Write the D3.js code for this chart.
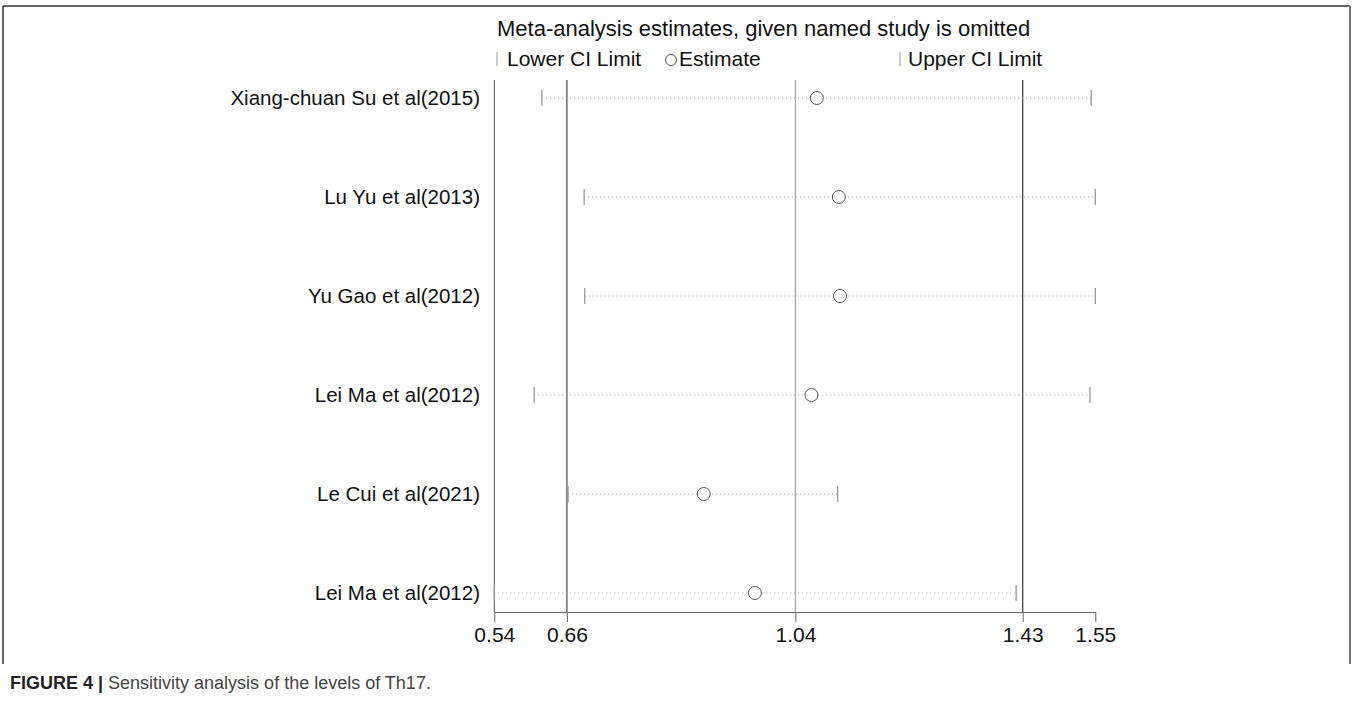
<!DOCTYPE html>
<html><head><meta charset="utf-8">
<script src="https://cdn.jsdelivr.net/npm/d3@7/dist/d3.min.js"></script>
<style>body{margin:0;background:#fff}svg{display:block}</style>
</head><body>
<svg id="c" width="1357" height="706"></svg>
<script>
const studies = ["Xiang-chuan Su et al(2015)","Lu Yu et al(2013)","Yu Gao et al(2012)","Lei Ma et al(2012)","Le Cui et al(2021)","Lei Ma et al(2012)"];
const lowerCI = [0.620,0.691,0.692,0.607,0.664,0.540];
const estimate = [1.082,1.119,1.121,1.073,0.892,0.978];
const upperCI = [1.543,1.550,1.550,1.541,1.117,1.417];
const overall = {lower:0.662, est:1.046, upper:1.428};
const tickValues = [0.54,0.662,1.046,1.428,1.55];
const tickLabels = ["0.54","0.66","1.04","1.43","1.55"];

const svg = d3.select("#c");
const font = "Liberation Sans, Arial, sans-serif";
// frame
svg.append("line").attr("x1",3).attr("y1",6).attr("x2",1350).attr("y2",6).attr("stroke","#333").attr("stroke-width",1.5);
svg.append("line").attr("x1",3).attr("y1",6).attr("x2",3).attr("y2",664).attr("stroke","#333").attr("stroke-width",1.5);
svg.append("line").attr("x1",1350).attr("y1",6).attr("x2",1350).attr("y2",664).attr("stroke","#777").attr("stroke-width",2);

const x = d3.scaleLinear().domain([0.54,1.55]).range([494.3,1095.3]);
const y = d3.scalePoint().domain(d3.range(studies.length)).range([98,593]);
const axisY = 612;

// reference vertical lines
svg.append("line").attr("x1",x(0.54)).attr("x2",x(0.54)).attr("y1",80).attr("y2",axisY).attr("stroke","#555").attr("stroke-width",1);
[[overall.lower,"#555"],[overall.est,"#aaa"],[overall.upper,"#444"]].forEach(([v,c])=>{
  svg.append("line").attr("x1",x(v)).attr("x2",x(v)).attr("y1",80).attr("y2",axisY).attr("stroke",c).attr("stroke-width",1.3);
});

// axis
const ax = d3.axisBottom(x).tickValues(tickValues).tickFormat((d,i)=>tickLabels[i]).tickSize(10).tickSizeOuter(0);
const g = svg.append("g").attr("transform",`translate(0,${axisY})`).call(ax);
g.select(".domain").attr("stroke","#666");
g.selectAll(".tick line").attr("stroke","#666");
g.selectAll(".tick text").attr("font-family",font).attr("font-size",21).attr("fill","#111").attr("dy","0.8em");

// rows
const rows = svg.append("g");
studies.forEach((s,i)=>{
  const yy = y(i);
  rows.append("line").attr("x1",x(lowerCI[i])).attr("x2",x(upperCI[i])).attr("y1",yy).attr("y2",yy)
    .attr("stroke","#999").attr("stroke-width",1).attr("stroke-dasharray","1,3");
  [lowerCI[i],upperCI[i]].forEach(v=>{
    rows.append("line").attr("x1",x(v)).attr("x2",x(v)).attr("y1",yy-8).attr("y2",yy+8).attr("stroke","#999").attr("stroke-width",1.3);
  });
  rows.append("circle").attr("cx",x(estimate[i])).attr("cy",yy).attr("r",6.5).attr("fill","#fff").attr("stroke","#555").attr("stroke-width",1);
  rows.append("text").attr("x",480).attr("y",yy).attr("dy","0.35em").attr("text-anchor","end")
    .attr("font-family",font).attr("font-size",20.5).attr("fill","#111").text(s);
});

// title and legend
svg.append("text").attr("x",497).attr("y",36).attr("font-family",font).attr("font-size",22).attr("fill","#111")
  .text("Meta-analysis estimates, given named study is omitted");
const ly = 59;
const lf = 21;
svg.append("line").attr("x1",497).attr("x2",497).attr("y1",ly-7).attr("y2",ly+7).attr("stroke","#999").attr("stroke-width",1);
svg.append("text").attr("x",507).attr("y",ly).attr("dy","0.35em").attr("font-family",font).attr("font-size",lf).attr("fill","#111").text("Lower CI Limit");
svg.append("circle").attr("cx",671).attr("cy",ly+1).attr("r",5.5).attr("fill","#fff").attr("stroke","#555").attr("stroke-width",1);
svg.append("text").attr("x",679).attr("y",ly).attr("dy","0.35em").attr("font-family",font).attr("font-size",lf).attr("fill","#111").text("Estimate");
svg.append("line").attr("x1",900).attr("x2",900).attr("y1",ly-7).attr("y2",ly+7).attr("stroke","#999").attr("stroke-width",1);
svg.append("text").attr("x",908).attr("y",ly).attr("dy","0.35em").attr("font-family",font).attr("font-size",lf).attr("fill","#111").text("Upper CI Limit");

// caption
const cap = svg.append("text").attr("x",10).attr("y",689).attr("font-family",font).attr("font-size",18);
cap.append("tspan").attr("font-weight","bold").attr("fill","#222").text("FIGURE 4 | ");
cap.append("tspan").attr("fill","#444").text("Sensitivity analysis of the levels of Th17.");
</script>
</body></html>
